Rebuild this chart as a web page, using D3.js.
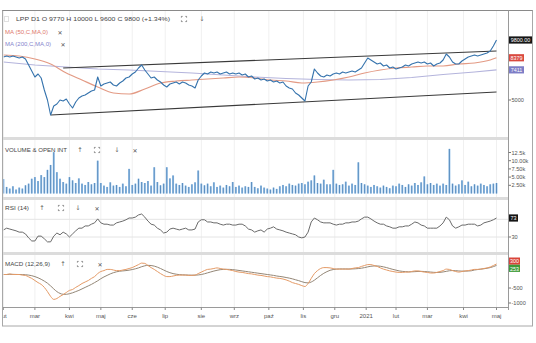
<!DOCTYPE html>
<html><head><meta charset="utf-8">
<script src="https://cdn.jsdelivr.net/npm/d3@7"></script>
<style>body{margin:0;background:#fff}svg{display:block;font-family:"Liberation Sans",Arial,sans-serif}</style>
</head><body><svg id="c" width="536" height="343"></svg>
<script>
// ---------- DATA ----------
const monthLabels = ["lut","mar","kwi","maj","cze","lip","sie","wrz","paź","lis","gru","2021","lut","mar","kwi","maj"];
const monthTradingDays = [20,22,20,20,21,23,21,22,22,20,20,19,20,23,21,1];
const lastDay = 314;

// close price, every 2nd trading day
const price = [8440,8520,8440,8520,8440,8360,8440,8280,7800,7320,
 6840,7080,6760,5800,5000,3800,4520,4680,5000,4920,
 5080,4680,4360,4840,5160,5320,5400,5560,5720,5800,
 6840,6120,6280,6360,6440,6200,6120,6360,6520,6760,
 6840,7080,7240,7560,7800,7400,7080,6760,6840,6600,
 6440,6200,6040,6280,6360,6440,6280,6440,6360,6200,
 6120,5960,6600,6920,7160,7080,7240,7160,7240,7080,
 7160,7240,7080,7160,7080,7160,7000,7080,6840,6920,
 6680,6760,6600,6680,6520,6600,6440,6520,6360,6440,
 6120,5960,5880,5560,5400,5160,4920,6120,6440,7480,
 7160,6920,6840,7000,6920,7080,7160,7080,7240,7160,
 7240,7320,7240,7400,7560,7960,8360,8200,8040,7880,
 7960,7720,7800,7560,7640,7480,7560,7640,7800,7720,
 7880,7960,8040,7960,8040,7880,7960,7720,7880,7960,
 8200,8680,8440,8040,7880,7880,8120,8280,8440,8520,
 8600,8520,8600,8680,8760,8920,9320,9800];
// MA(50) every 10 trading days + last
const ma50 = [8600,8520,8280,7880,7160,6600,6040,5560,5480,5880,6360,6520,6600,6680,6760,6840,6760,6600,6520,6360,6440,6600,6840,7160,7400,7560,7640,7720,7720,7880,7960,8200,8379];
// MA(200) every 20 trading days + last
const ma200 = [8040,7800,7640,7480,7400,7280,7160,7000,6840,6720,6640,6600,6640,6800,7040,7240,7411];
// trend channel [day, price]
const channelUpper = [[38,7560],[314,8920]];
const channelLower = [[30,3800],[314,5640]];
// volume (thousands), every 2nd trading day
const volumeK = [4.4,2.0,1.5,2.2,1.2,1.8,1.5,2.5,3.0,4.5,
 5.0,3.8,5.6,5.0,7.2,8.7,12.6,6.5,4.5,3.5,
 3.0,5.0,4.0,3.2,4.6,3.0,2.6,3.5,2.8,3.2,
 10.0,3.2,2.4,2.0,3.4,2.4,2.6,2.0,3.0,2.2,
 7.5,2.6,3.0,4.5,3.5,3.2,3.8,2.4,8.0,3.5,
 2.5,3.0,8.0,4.6,5.5,3.0,2.6,3.2,2.4,2.0,
 2.8,3.4,7.0,3.0,2.5,3.0,2.2,3.4,2.0,2.4,
 1.8,2.6,2.2,3.5,2.0,2.4,1.8,2.2,2.0,3.5,
 2.0,1.6,2.4,1.8,1.5,1.2,1.8,1.4,2.2,2.6,
 2.2,3.0,2.6,2.4,3.0,3.2,2.8,3.6,4.0,5.5,
 3.2,3.0,4.2,2.8,2.8,7.2,3.0,2.6,2.8,3.6,
 2.4,3.0,2.6,9.5,3.2,2.8,2.4,2.0,2.6,2.2,
 1.8,2.4,2.0,1.6,2.4,2.2,3.0,2.6,2.0,2.8,
 2.4,3.2,2.6,3.4,5.2,2.8,3.2,2.6,3.0,2.4,
 3.0,2.6,13.6,3.0,2.4,2.8,4.0,2.6,3.6,2.2,
 2.8,2.4,3.0,2.6,2.2,2.8,3.0,3.2];
const volumeTicks = [2.5,5,7.5,10,12.5];
const volumeTickLabels = ["2.50k","5.00k","7.50k","10.00k","12.5k"];
// RSI(14), every 2nd trading day
const rsi = [46,50,48,46,44,41,41,37,28,21,
 21,32,32,26,19,19,32,39,35,41,
 37,30,37,44,50,50,55,55,59,62,
 71,62,59,59,57,57,62,64,66,69,
 73,73,75,80,82,75,66,59,57,50,
 46,39,41,48,50,48,46,48,50,46,
 46,48,64,69,69,64,64,62,62,59,
 57,59,59,57,57,59,59,55,48,46,
 41,44,46,41,48,50,53,48,46,44,
 41,39,37,35,30,28,30,41,64,73,
 69,64,62,62,62,59,57,59,59,62,
 62,64,64,66,71,75,75,71,66,62,
 59,59,55,53,50,50,53,53,55,55,
 59,64,62,57,55,50,50,50,50,55,
 62,75,69,55,50,53,57,57,59,59,
 59,55,57,62,64,66,69,73];
// MACD(12,26,9), every 2nd trading day
const macd = [-50,-50,-30,-50,-50,-50,-70,-80,-130,-180,
 -250,-320,-380,-480,-620,-780,-880,-850,-780,-720,
 -650,-580,-550,-480,-420,-350,-300,-250,-180,-120,
 -20,50,80,120,120,100,80,80,100,120,
 150,180,230,280,330,320,250,180,120,50,
 -20,-80,-120,-120,-100,-80,-70,-70,-70,-80,
 -80,-70,-20,30,80,120,130,150,170,150,
 130,120,100,80,50,30,20,0,-20,-30,
 -50,-70,-80,-100,-120,-130,-150,-170,-180,-200,
 -230,-270,-320,-350,-380,-420,-450,-350,-180,-20,
 80,150,180,180,170,150,130,130,130,130,
 130,150,170,180,220,250,280,280,250,220,
 170,130,100,70,50,30,20,20,30,30,
 50,70,70,50,30,20,0,0,20,50,
 80,130,120,80,50,30,50,70,80,100,
 120,120,130,150,170,200,250,300];
const macdSignal = [-50,-50,-45,-45,-48,-50,-52,-58,-70,-90,
 -120,-160,-210,-270,-340,-430,-530,-620,-680,-710,
 -710,-690,-660,-620,-580,-530,-480,-430,-380,-320,
 -260,-190,-130,-80,-30,10,40,60,70,80,
 95,115,140,170,210,240,255,250,230,195,
 150,100,50,10,-20,-40,-55,-60,-65,-70,
 -72,-72,-65,-50,-25,5,35,65,90,110,
 120,122,120,112,100,85,70,55,40,25,
 10,-5,-20,-35,-50,-65,-80,-100,-115,-130,
 -150,-170,-195,-225,-255,-290,-320,-330,-300,-240,
 -160,-80,-10,45,90,115,130,135,135,135,
 133,135,140,148,160,180,205,225,235,235,
 225,205,180,150,120,95,70,55,45,40,
 40,45,52,55,50,42,32,22,18,22,
 35,55,75,82,78,68,62,62,66,74,
 100,115,128,142,158,180,212,253];
const macdTicks = [-500,-1000];

// ---------- LAYOUT ----------
const svg = d3.select("#c");
const L = 3.5, R = 508.5;
const P = { main:[11,137], vol:[140,197], rsi:[200,252], macd:[255,307] };

const priceDays = d3.range(0, lastDay+1, 2);
const ma50Days = d3.range(0, 311, 10).concat([lastDay]);
const ma200Days = d3.range(0, 301, 20).concat([lastDay]);
const monthStart = []; { let c=0; monthTradingDays.forEach((n,i)=>{ monthStart.push(c); c+=n; }); }

const x = d3.scaleLinear().domain([0, lastDay]).range([3.5, 496.5]);
const yP = d3.scaleLinear().domain([5000, 9800]).range([100, 40]);
const yV = d3.scaleLinear().domain([0, 12.5]).range([193.5, 152.5]);
const yR = d3.scaleLinear().domain([30, 73]).range([237, 218]);
const yM = d3.scaleLinear().domain([-1000, -500]).range([303, 288]);

const defs = svg.append("defs");
Object.entries(P).forEach(([k,[a,b]])=>{
  defs.append("clipPath").attr("id","cl-"+k).append("rect").attr("x",L).attr("y",a).attr("width",R-L).attr("height",b-a);
});
defs.append("clipPath").attr("id","cl-ax").append("rect").attr("x",3.2).attr("y",300).attr("width",R-3.2).attr("height",30);

// panel separators
[[137,140],[197,200],[252,255]].forEach(([a,b])=>svg.append("rect").attr("x",3).attr("y",a).attr("width",R-3).attr("height",b-a).attr("fill","#dcdcdc"));

// vertical grid
Object.entries(P).forEach(([k,[a,b]])=>{
  svg.append("g").selectAll("line").data(monthStart).join("line")
    .attr("x1",d=>x(d)).attr("x2",d=>x(d)).attr("y1",a).attr("y2",b)
    .attr("stroke","#f0f0f0").attr("stroke-width",1);
});

// ---------- MAIN PANEL ----------
const gm = svg.append("g").attr("clip-path","url(#cl-main)");
const line = d3.line();
gm.append("path").attr("d", line(ma200.map((v,i)=>[x(ma200Days[i]), yP(v)])).toString())
  .attr("fill","none").attr("stroke","#b4b4dc").attr("stroke-width",1.1);
gm.append("path").attr("d", d3.line().curve(d3.curveMonotoneX)(ma50.map((v,i)=>[x(ma50Days[i]), yP(v)])))
  .attr("fill","none").attr("stroke","#e39a84").attr("stroke-width",1.2);
[channelUpper, channelLower].forEach(c=>{
  gm.append("path").attr("d", line(c.map(d=>[x(d[0]), yP(d[1])])))
    .attr("fill","none").attr("stroke","#3a3a3a").attr("stroke-width",1.2);
});
gm.append("path").attr("d", line(price.map((v,i)=>[x(priceDays[i]), yP(v)])))
  .attr("fill","none").attr("stroke","#3573ad").attr("stroke-width",1.1).attr("stroke-linejoin","round");

// ---------- VOLUME ----------
const gv = svg.append("g").attr("clip-path","url(#cl-vol)");
gv.selectAll("rect").data(volumeK).join("rect")
  .attr("x",(d,i)=>x(priceDays[i])-1).attr("width",2)
  .attr("y",d=>yV(d)).attr("height",d=>yV(0)-yV(d))
  .attr("fill","#9cc6ec");
gv.selectAll("line").data(volumeK).join("line")
  .attr("x1",(d,i)=>x(priceDays[i])).attr("x2",(d,i)=>x(priceDays[i]))
  .attr("y1",d=>yV(d)).attr("y2",yV(0))
  .attr("stroke","#4a7fb4").attr("stroke-width",0.8);

// ---------- RSI ----------
const gr = svg.append("g").attr("clip-path","url(#cl-rsi)");
[70,30].forEach(v=>gr.append("line").attr("x1",L).attr("x2",R).attr("y1",yR(v)).attr("y2",yR(v)).attr("stroke","#e4e4e4"));
gr.append("path").attr("d", line(rsi.map((v,i)=>[x(priceDays[i]), yR(v)])))
  .attr("fill","none").attr("stroke","#6a6a6a").attr("stroke-width",1);

// ---------- MACD ----------
const gc = svg.append("g").attr("clip-path","url(#cl-macd)");
gc.append("path").attr("d", d3.line().curve(d3.curveMonotoneX)(macdSignal.map((v,i)=>[x(priceDays[i]), yM(v)])))
  .attr("fill","none").attr("stroke","#938676").attr("stroke-width",1);
gc.append("path").attr("d", d3.line().curve(d3.curveMonotoneX)(macd.map((v,i)=>[x(priceDays[i]), yM(v)])))
  .attr("fill","none").attr("stroke","#e49a66").attr("stroke-width",1);

// ---------- X AXIS ----------
svg.append("line").attr("x1",3).attr("x2",R).attr("y1",307.5).attr("y2",307.5).attr("stroke","#9a9a9a");
const gx = svg.append("g").attr("clip-path","url(#cl-ax)");
monthStart.forEach((d,i)=>{
  gx.append("line").attr("x1",x(d)).attr("x2",x(d)).attr("y1",307.5).attr("y2",310).attr("stroke","#888");
  gx.append("text").attr("x",x(d)).attr("y",316).attr("text-anchor","middle").attr("dominant-baseline","central")
    .attr("font-size",6).attr("fill","#555").text(monthLabels[i]);
});

// ---------- FRAME & RIGHT AXIS ----------
svg.append("rect").attr("x",2.5).attr("y",10.5).attr("width",530).attr("height",315.5).attr("fill","none").attr("stroke","#a8a8a8");
svg.append("line").attr("x1",2.5).attr("x2",532.5).attr("y1",10.5).attr("y2",10.5).attr("stroke","#8a8a8a").attr("stroke-width",1.2);
svg.append("line").attr("x1",R).attr("x2",R).attr("y1",10.5).attr("y2",310).attr("stroke","#9a9a9a");

function tickLabel(y, s){
  svg.append("line").attr("x1",R).attr("x2",R+2.5).attr("y1",y).attr("y2",y).attr("stroke","#777");
  svg.append("text").attr("x",R+3).attr("y",y).attr("dominant-baseline","central").attr("font-size",5.6).attr("fill","#555").text(s);
}
function box(y, s, fill, w){
  svg.append("rect").attr("x",R+0.5).attr("y",y-3.6).attr("width",w).attr("height",7.2).attr("fill",fill);
  svg.append("text").attr("x",R+0.5+w/2).attr("y",y+0.2).attr("text-anchor","middle").attr("dominant-baseline","central")
    .attr("font-size",5.4).attr("fill","#fff").text(s);
}
tickLabel(yP(5000), "5000");
box(yP(price[price.length-1]), d3.format(".2f")(price[price.length-1]), "#151515", 23);
box(yP(ma50[ma50.length-1]), String(ma50[ma50.length-1]), "#d9493f", 15);
box(yP(ma200[ma200.length-1]), String(ma200[ma200.length-1]), "#7d7dc6", 15);
volumeTicks.forEach((v,i)=>tickLabel(yV(v), volumeTickLabels[i]));
tickLabel(yR(30), "30");
box(yR(rsi[rsi.length-1]), String(rsi[rsi.length-1]), "#151515", 9);
macdTicks.forEach(v=>tickLabel(yM(v), String(v)));
{
  let a = yM(macd[macd.length-1]), b = yM(macdSignal[macdSignal.length-1]);
  const mid=(a+b)/2; if (Math.abs(a-b)<7.2){ a=mid-3.6; b=mid+3.6; }
  box(a, String(macd[macd.length-1]), "#d9453a", 11);
  box(b, String(macdSignal[macdSignal.length-1]), "#3f9a3a", 11);
}

// ---------- HEADERS ----------
function t(xp, yp, s, o={}){
  const e = svg.append("text").attr("x",xp).attr("y",yp).attr("dominant-baseline","central")
    .attr("font-size",o.size||6).attr("fill",o.fill||"#444").text(s);
  if(o.len) e.attr("textLength",o.len).attr("lengthAdjust","spacingAndGlyphs");
  if(o.font) e.attr("font-family",o.font);
  if(o.anchor) e.attr("text-anchor",o.anchor);
  return e;
}
function expandIcon(cx, cy){
  const s=2.6, k=1.2, p=[];
  [[-1,-1],[1,-1],[-1,1],[1,1]].forEach(([sx,sy])=>{
    p.push(`M${cx+sx*s},${cy+sy*(s-k)}L${cx+sx*s},${cy+sy*s}L${cx+sx*(s-k)},${cy+sy*s}`);
  });
  svg.append("path").attr("d",p.join("")).attr("fill","none").attr("stroke","#666").attr("stroke-width",0.8);
}
const icon = {font:"DejaVu Sans", size:6.5, fill:"#666", anchor:"middle"};
// main
svg.append("rect").attr("x",4.5).attr("y",16.5).attr("width",4).attr("height",5).attr("fill","none").attr("stroke","#999").attr("stroke-width",0.6).attr("stroke-dasharray","1,1");
t(16, 19, "LPP  D1  O 9770  H 10000  L 9600  C 9800  (+1.34%)", {len:154, fill:"#454545"});
expandIcon(184, 19);
t(202, 19, "↓", icon);
t(5, 32, "MA (50,C,MA,0)", {len:43, fill:"#e0786a"});
t(60, 32, "✕", {font:"DejaVu Sans", size:6, fill:"#555", anchor:"middle"});
t(5, 44, "MA (200,C,MA,0)", {len:46, fill:"#8484cc"});
t(63, 44, "✕", {font:"DejaVu Sans", size:6, fill:"#555", anchor:"middle"});
// volume
t(5, 150, "VOLUME & OPEN INT", {len:62, fill:"#454545"});
t(80, 150, "↑", icon); expandIcon(97, 150); t(117, 150, "↓", icon);
t(135, 150, "✕", {font:"DejaVu Sans", size:6, fill:"#555", anchor:"middle"});
// rsi
t(5, 208, "RSI (14)", {len:24, fill:"#454545"});
t(42, 208, "↑", icon); expandIcon(61, 208); t(78, 208, "↓", icon);
t(97, 208, "✕", {font:"DejaVu Sans", size:6, fill:"#555", anchor:"middle"});
// macd
t(5, 264, "MACD (12,26,9)", {len:45, fill:"#454545"});
t(63, 264, "↑", icon); expandIcon(80, 264);
t(100, 264, "✕", {font:"DejaVu Sans", size:6, fill:"#555", anchor:"middle"});
</script></body></html>
